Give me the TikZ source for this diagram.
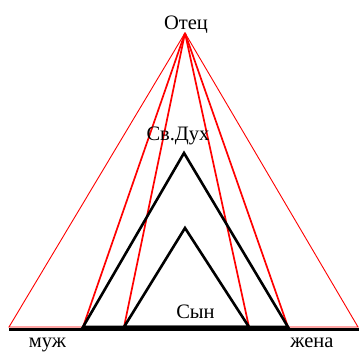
\documentclass[tikz,border=0pt]{standalone}
\usepackage{fontspec}
\setmainfont{Liberation Serif}
\begin{document}
\begin{tikzpicture}[x=1pt,y=-1pt,
  lbl/.style={anchor=base,inner sep=0pt,font=\fontsize{20.5}{24}\selectfont},
  redthin/.style={draw=red,line width=0.9pt},
  redthick/.style={draw=red,line width=1.7pt},
  blk/.style={draw=black,line width=2.6pt,line join=miter}]
\useasboundingbox (0,0) rectangle (359,351);
% coordinates
\coordinate (A) at (185,33);
\coordinate (L0) at (9,327);
\coordinate (R0) at (358,327);
\coordinate (L1) at (83,327);
\coordinate (L2) at (124,327);
\coordinate (R2) at (249,327);
\coordinate (R1) at (288,327);
\coordinate (BL) at (9,329.5);
\coordinate (BR) at (359,329.5);
\coordinate (T1) at (184,153);
\coordinate (T2) at (185,228);
% red lines
\draw[redthin] (L0) -- (A) -- (R0) -- cycle;
\draw[redthick] (A) -- (L1);
\draw[redthick] (A) -- (L2);
\draw[redthick] (A) -- (R2);
\draw[redthick] (A) -- (R1);
% black triangles
\draw[blk] (L1) -- (T1) -- (R1) -- cycle;
\draw[blk] (L2) -- (T2) -- (R2) -- cycle;
\draw[draw=black,line width=3pt] (BL) -- (BR);
% labels
\node[lbl] (otec) at (186,29.5) {Отец};
\node[lbl] (duh) at (178,140) {Св.Дух};
\node[lbl] (syn) at (195.5,318) {Сын};
\node[lbl] (muzh) at (47.5,347.5) {муж};
\node[lbl] (zhena) at (312,347) {жена};
\end{tikzpicture}
\end{document}
